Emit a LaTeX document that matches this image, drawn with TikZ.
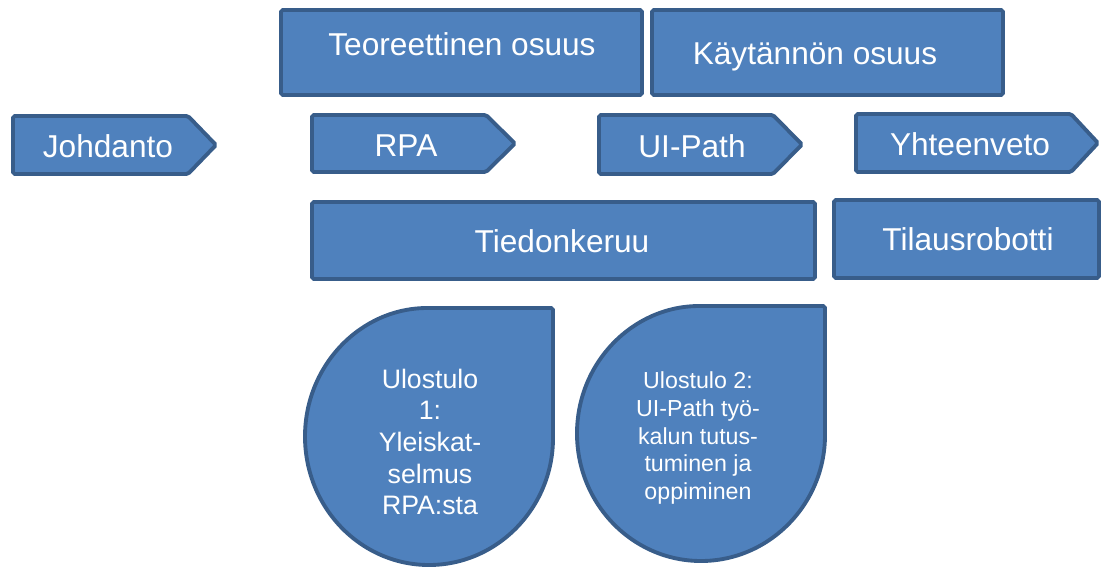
\documentclass[tikz,border=0pt]{standalone}
\usepackage{fontspec}
\setmainfont{Liberation Sans}
\definecolor{partfill}{HTML}{4F81BD}
\definecolor{partline}{HTML}{385D8A}

\begin{document}
\begin{tikzpicture}[x=0.02cm, y=-0.02cm,
    part/.style={fill=partfill, draw=partline, line width=2.2pt, rounded corners=1pt},
    label/.style={text=white, inner sep=0pt, anchor=base, font=\fontsize{18}{21.6}\selectfont},
    droptext/.style={text=white, inner sep=0pt, align=center}]
    \useasboundingbox (0,0) rectangle (1103,572);

    % upper blocks
    \filldraw[part] (281,10) rectangle (642,95);
    \filldraw[part] (652,10) rectangle (1003,95);
    \node[label] (teoria) at (462,55) {Teoreettinen osuus};
    \node[label] (kaytanto) at (815,64) {Käytännön osuus};

    % phases
    \filldraw[part] (13,116) -- (188,116) -- (216,145) -- (188,174) -- (13,174) -- cycle;
    \filldraw[part] (312,115) -- (486,115) -- (515,143.5) -- (486,172) -- (312,172) -- cycle;
    \filldraw[part] (599,115) -- (773,115) -- (802,144.5) -- (773,174) -- (599,174) -- cycle;
    \filldraw[part] (856,114) -- (1071,114) -- (1098,143) -- (1071,172) -- (856,172) -- cycle;
    \node[label] (johdanto) at (108,157) {Johdanto};
    \node[label] (rpa) at (406,156) {RPA};
    \node[label] (uipath) at (692,157) {UI-Path};
    \node[label] (yhteenveto) at (970,155) {Yhteenveto};

    % work blocks
    \filldraw[part] (312,202) rectangle (815,279);
    \filldraw[part] (834,200) rectangle (1099,278);
    \node[label] (tiedonkeruu) at (562,252) {Tiedonkeruu};
    \node[label] (robotti) at (968,250) {Tilausrobotti};

    % outputs
    \filldraw[part] (553,436.5) arc[start angle=0, end angle=270, x radius=124, y radius=128.5]
        -- (553,308) -- cycle;
    \filldraw[part] (825,433.5) arc[start angle=0, end angle=270, x radius=124, y radius=127.5]
        -- (825,306) -- cycle;
    \node[droptext, font=\fontsize{15.2}{18}\selectfont] (tulos1) at (430,442)
        {Ulostulo\\1:\\Yleiskat-\\selmus\\RPA:sta};
    \node[droptext, font=\fontsize{13.2}{15.7}\selectfont] (tulos2) at (698,438)
        {Ulostulo 2:\\UI-Path työ-\\kalun tutus-\\tuminen ja\\oppiminen};

\end{tikzpicture}
\end{document}
